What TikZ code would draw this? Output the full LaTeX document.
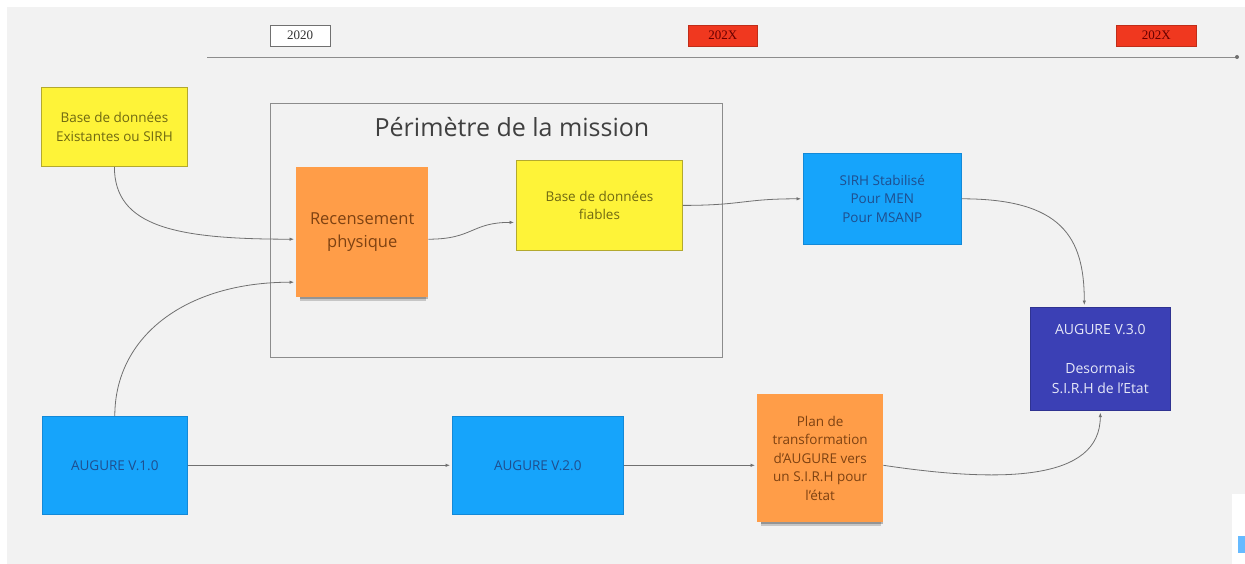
\documentclass[tikz,border=0pt]{standalone}
\usepackage{fontspec}
\setmainfont{Open Sans}
\newfontfamily\yearfont{Liberation Serif}
\usetikzlibrary{arrows.meta,shadows}
\definecolor{bg}{HTML}{F2F2F2}
\definecolor{yfill}{HTML}{FEF338}
\definecolor{ydraw}{HTML}{B3A92E}
\definecolor{ytext}{HTML}{6F6912}
\definecolor{ofill}{HTML}{FF9D48}
\definecolor{otext}{HTML}{7E4212}
\definecolor{bfill}{HTML}{16A4FB}
\definecolor{bdraw}{HTML}{1389D8}
\definecolor{btext}{HTML}{1F4E8E}
\definecolor{dfill}{HTML}{3B40B5}
\definecolor{dtext}{HTML}{E6E8F8}
\definecolor{rfill}{HTML}{F0381F}
\definecolor{linec}{HTML}{707070}
\begin{document}
\begin{tikzpicture}[x=1pt,y=-1pt,
  boxbase/.style={anchor=north west,inner sep=2pt,align=center,font=\fontsize{13.5}{18.5}\selectfont},
  ybox/.style={boxbase,fill=yfill,draw=ydraw,line width=0.8pt,text=ytext},
  bbox/.style={boxbase,fill=bfill,draw=bdraw,line width=0.6pt,text=btext},
  dbox/.style={boxbase,fill=dfill,draw=dfill!80!black,line width=0.6pt,text=dtext,font=\fontsize{14}{19.5}\selectfont},
  sticky/.style={boxbase,fill=ofill,text=otext,
    drop shadow={shadow xshift=1pt,shadow yshift=-7pt,shadow scale=0.95,opacity=0.18,fill=black},
    drop shadow={shadow xshift=2pt,shadow yshift=-4pt,shadow scale=0.97,opacity=0.25,fill=black}},
  yearbox/.style={anchor=north west,inner sep=0pt,font=\yearfont\fontsize{13}{15}\selectfont,minimum height=21pt},
  conn/.style={draw=linec,line width=0.8pt,-{Latex[length=4.5pt,width=3.5pt]},shorten >=2pt}]
\useasboundingbox (0,0) rectangle (1245,564);
\fill[white] (0,0) rectangle (1245,564);
\fill[bg] (7,7) rectangle (1245,564);
\fill[white] (1232,494) rectangle (1245,564);
\fill[blue!45!cyan!60!white] (1238,536) rectangle (1245,553);

% timeline
\coordinate (tl0) at (207,57);
\coordinate (tl1) at (1237,57);
\draw[linec!80,line width=0.9pt] (tl0) -- (tl1);
\fill[linec] (tl1) circle (2pt);
\node[yearbox,fill=white,draw=linec,minimum width=60pt,text=black!80] (y20) at (270,25) {2020};
\node[yearbox,fill=rfill,draw=rfill!80!black,minimum width=69pt,text=black!60!red] (yx1) at (688,25) {202X};
\node[yearbox,fill=rfill,draw=rfill!80!black,minimum width=80pt,text=black!60!red] (yx2) at (1116,25) {202X};

% perimeter
\node[anchor=north west,draw=black!45,line width=0.7pt,minimum width=452pt,minimum height=254pt,inner sep=0pt] (perim) at (270,103) {};
\node[text=black!75,font=\fontsize{25}{30}\selectfont] (title) at (512,127) {Périmètre de la mission};

% nodes
\node[ybox,minimum width=146pt,minimum height=79pt] (bde) at (41,87) {Base de données\\Existantes ou SIRH};
\node[sticky,minimum width=132pt,minimum height=130pt,font=\fontsize{16.5}{23}\selectfont] (rec) at (296,167) {Recensement\\physique};
\node[ybox,minimum width=166pt,minimum height=90pt] (bdf) at (516,160) {Base de données\\fiables};
\node[bbox,minimum width=158pt,minimum height=91pt] (sirh) at (803,153) {SIRH Stabilisé\\Pour MEN\\Pour MSANP};
\node[dbox,minimum width=140pt,minimum height=103pt] (v3) at (1030,307) {AUGURE V.3.0\\[19.5pt]Desormais\\S.I.R.H de l'Etat};
\node[bbox,minimum width=145pt,minimum height=98pt] (v1) at (42,416) {AUGURE V.1.0};
\node[bbox,minimum width=171pt,minimum height=98pt] (v2) at (452,416) {AUGURE V.2.0};
\node[sticky,minimum width=126pt,minimum height=128pt] (plan) at (757,394) {Plan de\\transformation\\d'AUGURE vers\\un S.I.R.H pour\\l'état};

% connectors
\draw[conn] (bde.south) .. controls +(0,60) and +(-120,0) .. ([yshift=-7pt]rec.west);
\draw[conn] (v1.north) .. controls +(0,-80) and +(-110,0) .. ([yshift=-50pt]rec.west);
\draw[conn] ([yshift=-7pt]rec.east) .. controls +(45,0) and +(-45,0) .. ([yshift=-17pt]bdf.west);
\draw[conn] (bdf.east) .. controls +(60,0) and +(-60,0) .. (sirh.west);
\draw[conn] (sirh.east) .. controls +(100,0) and +(0,-70) .. ([xshift=-16pt]v3.north);
\draw[conn] (v1.east) -- (v2.west);
\draw[conn] (v2.east) -- (v2.east -| plan.west);
\draw[conn] (v2.east -| plan.east) .. controls +(120,18) and +(0,70) .. (v3.south);
\end{tikzpicture}
\end{document}
